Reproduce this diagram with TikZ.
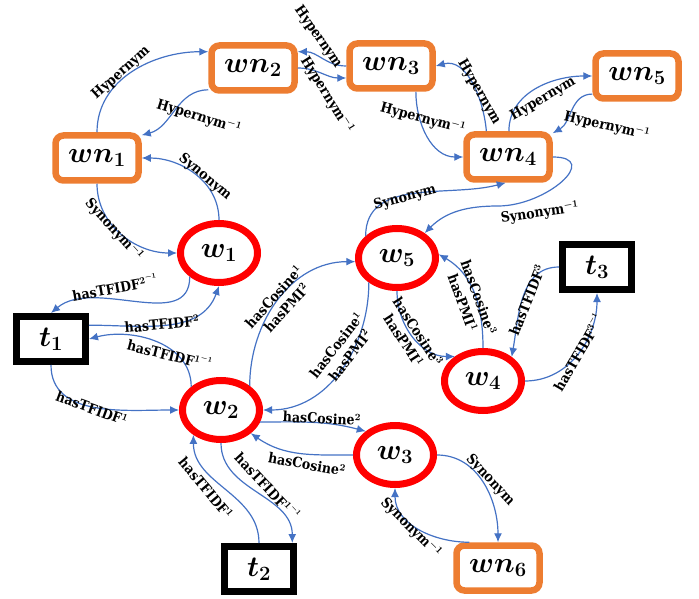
\RequirePackage{fix-cm}
\documentclass[tikz,border=0pt]{standalone}
\usepackage{amsmath}
\usepackage{fontspec}
\newfontfamily\labfont{DejaVuSerifCondensed-Bold.ttf}
\usetikzlibrary{shapes.geometric,arrows.meta}
\definecolor{wnorange}{HTML}{ED7D31}
\definecolor{relblue}{HTML}{4472C4}
\tikzset{
  wnbox/.style={draw=wnorange, line width=6.5pt, rounded corners=8pt, fill=white,
    minimum width=83pt, minimum height=45pt, inner sep=0pt,
    font=\fontsize{29}{31}\selectfont\boldmath},
  wordnode/.style={draw=red, ellipse, line width=7pt, fill=white,
    minimum width=77pt, minimum height=59pt, inner sep=0pt,
    font=\fontsize{29}{31}\selectfont\boldmath},
  termbox/.style={draw=black, line width=7pt, fill=white,
    minimum width=69pt, minimum height=45pt, inner sep=0pt,
    font=\fontsize{29}{31}\selectfont\boldmath},
  rel/.style={relblue, line width=1.2pt, -{Latex[length=9pt,width=8pt]}},
  lab/.style={font=\fontsize{14}{17}\labfont\boldmath,
    inner sep=1pt, align=center}
}
\begin{document}
\begin{tikzpicture}[x=1pt,y=1pt]
\useasboundingbox (0,0) rectangle (699,-599);

% WordNet nodes
\node[wnbox] (wn1) at (97,-158) {$wn_1$};
\node[wnbox] (wn2) at (253,-68) {$wn_2$};
\node[wnbox] (wn3) at (391,-66) {$wn_3$};
\node[wnbox] (wn4) at (508,-157) {$wn_4$};
\node[wnbox] (wn5) at (637,-76) {$wn_5$};
\node[wnbox] (wn6) at (498,-568) {$wn_6$};

% words
\node[wordnode] (w1) at (219,-253) {$w_1$};
\node[wordnode] (w2) at (221,-410) {$w_2$};
\node[wordnode] (w3) at (395,-455) {$w_3$};
\node[wordnode] (w4) at (483,-381) {$w_4$};
\node[wordnode] (w5) at (397,-258) {$w_5$};

% terms
\node[termbox] (t1) at (51,-339) {$t_1$};
\node[termbox] (t2) at (259,-569) {$t_2$};
\node[termbox] (t3) at (597,-267) {$t_3$};

% hypernyms
\path[draw,rel] (wn1.north) to[out=90,in=180] (wn2.160);
\node[lab,rotate=42] (h12) at (121,-73) {Hypernym};
\path[draw,rel] (wn2.206) to[out=180,in=15] (wn1.27);
\node[lab,rotate=-17] (h21) at (199,-117) {Hypernym$^{-1}$};
\path[draw,rel] (wn3.west) to[out=180,in=0] (wn2.20);
\node[lab,rotate=-55] (h32) at (318,-37) {Hypernym};
\path[draw,rel] (wn2.east) to[out=0,in=180] (wn3.195);
\node[lab,rotate=-58] (h23) at (327,-95) {Hypernym$^{-1}$};
\path[draw,rel] (wn4.130) to[out=95,in=15] (wn3.east);
\node[lab,rotate=-60] (h43) at (479,-92) {Hypernym};
\path[draw,rel] (wn3.-46) to[out=-90,in=180] (wn4.west);
\node[lab,rotate=-15] (h34) at (423,-119) {Hypernym$^{-1}$};
\path[draw,rel] (wn4.88) to[out=90,in=180] (wn5.west);
\node[lab,rotate=30] (h45) at (543,-99) {Hypernym};
\path[draw,rel] (wn5.202) to[out=180,in=30] (wn4.28);
\node[lab,rotate=-13] (h54) at (607,-126) {Hypernym$^{-1}$};

% synonyms
\path[draw,rel] (w1.north) to[out=90,in=0] (wn1.east);
\node[lab,rotate=-40] (s1) at (205,-177) {Synonym};
\path[draw,rel] (wn1.south) to[out=-90,in=180] (w1.west);
\node[lab,rotate=-48] (s1i) at (114,-230) {Synonym$^{-1}$};
\path[draw,rel] (w5.145) to[out=90,in=195] (wn4.-95);
\node[lab,rotate=15] (s5) at (405,-198) {Synonym};
\coordinate (s5bend) at (498,-206);
\path[draw,rel] (wn4.east) to[out=0,in=0,looseness=1.7] (s5bend)
  to[out=180,in=45] (w5.42);
\node[lab,rotate=8] (s5i) at (540,-213) {Synonym$^{-1}$};
\path[draw,rel] (w3.east) to[out=0,in=90] (wn6.north);
\node[lab,rotate=-47] (s3) at (490,-480) {Synonym};
\path[draw,rel] (wn6.138) to[out=180,in=-90] (w3.south);
\node[lab,rotate=-45] (s3i) at (411,-528) {Synonym$^{-1}$};

% tf-idf
\path[draw,rel] (w1.219) to[out=-90,in=40] (t1.north);
\node[lab,rotate=10] (tf1i) at (115,-287) {hasTFIDF$^{2^{-1}}$};
\path[draw,rel] (t1.20) to[out=0,in=-110] (w1.south);
\node[lab,rotate=5] (tf1) at (162,-324) {hasTFIDF$^2$};
\path[draw,rel] (w2.142) to[out=90,in=15] (t1.east);
\node[lab,rotate=-14] (tf2i) at (170,-354) {hasTFIDF$^{1^{-1}}$};
\path[draw,rel] (t1.south) to[out=-90,in=180] (w2.west);
\node[lab,rotate=-20] (tf2) at (92,-408) {hasTFIDF$^1$};
\path[draw,rel] (t2.north) to[out=90,in=-90] (w2.222);
\node[lab,rotate=-50] (tf3) at (206,-488) {hasTFIDF$^1$};
\path[draw,rel] (w2.south) to[out=-90,in=90] (t2.38);
\node[lab,rotate=-47] (tf3i) at (268,-486) {hasTFIDF$^{1^{-1}}$};
\path[draw,rel] (t3.west) to[out=180,in=80] (w4.40);
\node[lab,rotate=68] (tf4) at (527,-300) {hasTFIDF$^3$};
\path[draw,rel] (w4.east) to[out=0,in=-90] (t3.south);
\node[lab,rotate=60] (tf4i) at (578,-352) {hasTFIDF$^{3^{-1}}$};

% similarities
\path[draw,rel] (w2.40) to[out=90,in=180] (w5.185);
\node[lab,rotate=48] (c25) at (280,-302) {hasCosine$^1$\\hasPMI$^2$};
\path[draw,rel] (w5.221) to[out=-90,in=0] (w2.east);
\node[lab,rotate=52] (c52) at (343,-350) {hasCosine$^1$\\hasPMI$^2$};
\path[draw,rel] (w5.south) to[out=-90,in=180] (w4.139);
\node[lab,rotate=-57] (c54) at (411,-336) {hasCosine$^3$\\hasPMI$^1$};
\path[draw,rel] (w4.north) to[out=90,in=-30] (w5.5);
\node[lab,rotate=-70] (c45) at (471,-300) {hasCosine$^3$\\hasPMI$^1$};
\path[draw,rel] (w2.-17) to[out=0,in=165] (w3.141);
\node[lab,rotate=-3] (c23) at (322,-418) {hasCosine$^2$};
\path[draw,rel] (w3.west) to[out=180,in=-35] (w2.-38);
\node[lab,rotate=-10] (c32) at (307,-464) {hasCosine$^2$};
\end{tikzpicture}
\end{document}
